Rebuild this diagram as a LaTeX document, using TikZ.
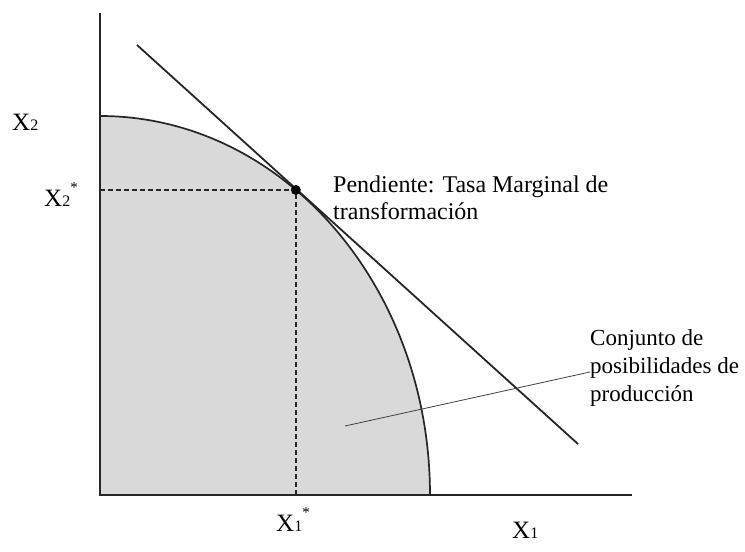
\documentclass[tikz,border=0pt]{standalone}
\usepackage{fontspec}
\setmainfont{Liberation Serif}
\usetikzlibrary{calc}
\begin{document}
\begin{tikzpicture}[x=1pt,y=1pt,
  axis/.style={line width=1.8pt, black!85},
  frontier/.style={line width=1.7pt, black!85},
  tangent/.style={line width=1.8pt, black!85},
  guide/.style={line width=1.6pt, black!85, dash pattern=on 5pt off 3pt},
  leader/.style={line width=0.8pt, black!75},
  lbl/.style={inner sep=0pt, align=left, anchor=north west, font=\fontsize{24}{27}\selectfont},
  lblb/.style={inner sep=0pt, align=left, anchor=north west, font=\fontsize{23}{28}\selectfont},
  axlbl/.style={inner sep=0pt, anchor=base west, font=\fontsize{25}{28}\selectfont},
  digit/.style={font=\fontsize{16}{18}\selectfont}]
\useasboundingbox (0,0) rectangle (745,552);
\coordinate (O) at (100,57);
\coordinate (Ytop) at (100,539);
\coordinate (Xend) at (632,57);
\coordinate (C0) at (100,436);
\coordinate (C1) at (430,57);
\coordinate (P) at ($(O)+(53.6:330 and 379)$);
\coordinate (T1) at (137,507);
\coordinate (T2) at (578,108);
\coordinate (L1) at (345,126);
\coordinate (L2) at (590,180);
% shaded set
\fill[black!15] (O) -- (C0) arc[start angle=90,end angle=0,x radius=330,y radius=379] -- cycle;
% frontier
\draw[frontier] (C0) arc[start angle=90,end angle=0,x radius=330,y radius=379];
% axes
\draw[axis] (Ytop) -- (O) -- (Xend);
% guides
\draw[guide] (O |- P) -- (P) -- (P |- O);
% tangent
\draw[tangent] (T1) -- (T2);
% leader
\draw[leader] (L1) -- (L2);
\fill[black] (P) circle (5);
% labels
\node[axlbl] (x2) at (12,421) {X{\fontsize{16}{18}\selectfont 2}};
\node[axlbl] (x2s) at (44,345) {X{\fontsize{16}{18}\selectfont 2}\raisebox{14pt}{\fontsize{15}{15}\selectfont *}};
\node[axlbl] (x1s) at (276,20) {X{\fontsize{16}{18}\selectfont 1}\raisebox{14pt}{\fontsize{15}{15}\selectfont *}};
\node[axlbl] (x1) at (512,13) {X{\fontsize{16}{18}\selectfont 1}};
\node[lbl] (pend) at (333,376) {Pendiente: Tasa Marginal de\\transformación};
\node[lblb] (conj) at (590,223) {Conjunto de\\posibilidades de\\producción};
\end{tikzpicture}
\end{document}
